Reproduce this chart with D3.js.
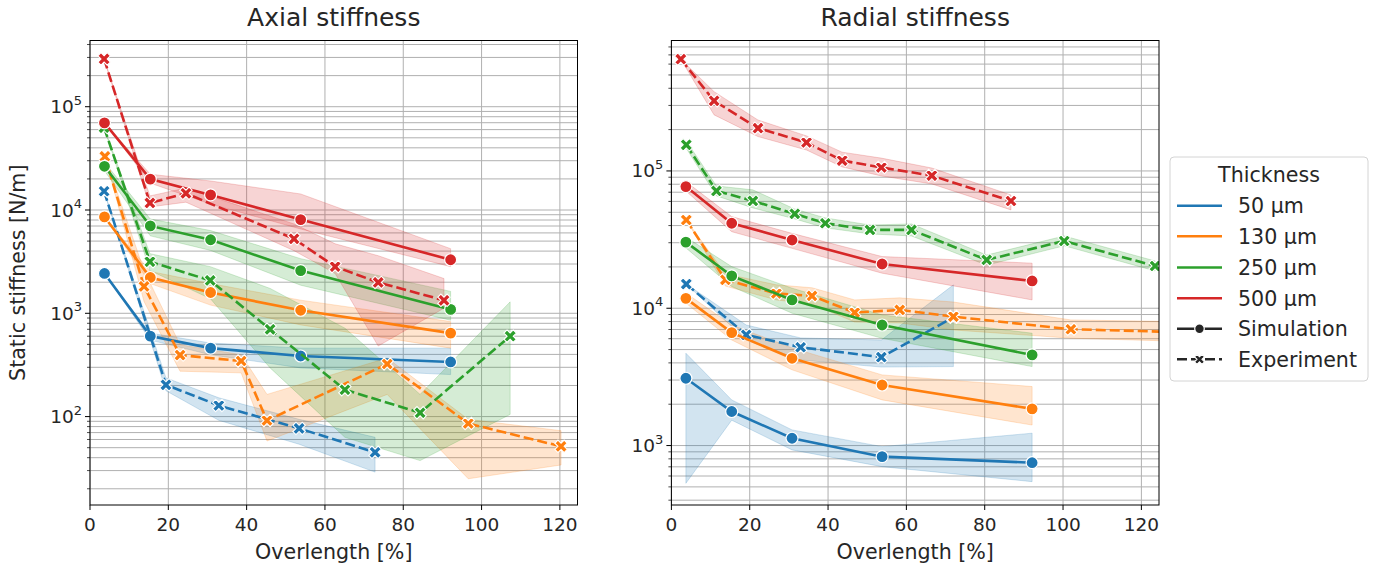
<!DOCTYPE html>
<html>
<head>
<meta charset="utf-8">
<script src="https://cdn.jsdelivr.net/npm/d3@7"></script>
<style>
  body { margin: 0; background: #fff; }
  svg { font-family: "DejaVu Sans", sans-serif; }
</style>
</head>
<body>
<svg id="chart" width="1377" height="572"></svg>
<script>
// ---------- data ----------
const thicknessLabels = ["50 µm", "130 µm", "250 µm", "500 µm"];
const methodLabels = ["Simulation", "Experiment"];
const xTicks = [0, 20, 40, 60, 80, 100, 120];

// Simulation overlength steps (%), shared by all thicknesses
const simX = [3.7, 15.4, 30.8, 53.8, 92.1];

// Axial stiffness – simulation (mean, lower, upper) [N/m]
const axialSim50 = [2430, 601, 460, 386, 338];
const axialSim50Lo = [2430, 550, 397, 296, 255];
const axialSim50Hi = [2430, 643, 515, 460, 460];
const axialSim130 = [8570, 2220, 1590, 1070, 643];
const axialSim130Lo = [8570, 1940, 1200, 772, 460];
const axialSim130Hi = [8570, 2540, 1940, 1340, 832];
const axialSim250 = [26500, 7010, 5150, 2590, 1090];
const axialSim250Lo = [24000, 5620, 4060, 1870, 857];
const axialSim250Hi = [29000, 8180, 6320, 3380, 1630];
const axialSim500 = [69700, 19900, 14000, 8070, 3300];
const axialSim500Lo = [69700, 18200, 11400, 6550, 2830];
const axialSim500Hi = [69700, 22200, 19100, 14300, 4220];

// Axial stiffness – experiment
const axialExp50X = [3.6, 19.4, 32.9, 53.4, 72.8];
const axialExp50 = [15200, 203, 128, 76.8, 45.1];
const axialExp50Lo = [15200, 178, 92, 54, 29];
const axialExp50Hi = [15200, 237, 152, 94, 63];
const axialExp130X = [3.8, 13.8, 23.0, 38.6, 45.2, 75.9, 96.6, 120.3];
const axialExp130 = [33000, 1820, 394, 345, 91.6, 323, 85.7, 51.5];
const axialExp130Lo = [33000, 1300, 275, 265, 58, 164, 25, 34];
const axialExp130Hi = [33000, 2600, 496, 397, 164, 369, 94, 73];
const axialExp250X = [3.6, 15.3, 30.7, 46.0, 65.1, 84.3, 107.3];
const axialExp250 = [62800, 3160, 2080, 700, 182, 109, 601];
const axialExp250Lo = [62800, 2590, 1390, 296, 63, 37.5, 105];
const axialExp250Hi = [62800, 3780, 2830, 1740, 718, 164, 1290];
const axialExp500X = [3.6, 15.3, 24.5, 52.1, 62.6, 73.6, 90.4];
const axialExp500 = [290000, 11700, 14500, 5260, 2830, 1990, 1335];
const axialExp500Lo = [290000, 10700, 11900, 4040, 2430, 482, 1120];
const axialExp500Hi = [290000, 13700, 16300, 7330, 4710, 3610, 2170];

// Radial stiffness – simulation
const radialSim50 = [3090, 1770, 1130, 830, 750];
const radialSim50Lo = [531, 1530, 930, 702, 546];
const radialSim50Hi = [4700, 2150, 1300, 982, 1230];
const radialSim130 = [11800, 6640, 4320, 2760, 1850];
const radialSim130Lo = [10900, 5870, 3560, 2150, 1410];
const radialSim130Hi = [12900, 7550, 5140, 3270, 2690];
const radialSim250 = [30300, 17200, 11500, 7550, 4570];
const radialSim250Lo = [27500, 14400, 9200, 6040, 3760];
const radialSim250Hi = [33000, 20100, 14000, 8940, 6580];
const radialSim500 = [76900, 41600, 31400, 21000, 15800];
const radialSim500Lo = [71400, 36100, 27300, 18000, 11500];
const radialSim500Hi = [83600, 46500, 35100, 23800, 21300];

// Radial stiffness – experiment
const radialExp50X = [3.8, 19.1, 33.0, 53.6, 72.0];
const radialExp50 = [15000, 6400, 5200, 4400, 8590];
const radialExp50Lo = [15000, 5870, 4200, 3730, 3760];
const radialExp50Hi = [15000, 7550, 6080, 5870, 14800];
const radialExp130X = [3.8, 13.8, 26.8, 35.9, 46.8, 58.3, 72.0, 102.0, 135];
const radialExp130 = [43900, 16100, 12800, 12300, 9300, 9720, 8690, 7030, 6640];
const radialExp130Lo = [43900, 14500, 11500, 10700, 7940, 7810, 6950, 6050, 5690];
const radialExp130Hi = [43900, 17800, 14800, 14100, 11500, 11900, 11100, 8220, 7940];
const radialExp250X = [3.8, 11.5, 20.8, 31.5, 39.3, 50.7, 61.3, 80.5, 100.3, 123.5];
const radialExp250 = [155000, 71500, 60500, 48700, 41600, 37200, 37200, 22500, 30900, 20300];
const radialExp250Lo = [146000, 65800, 53800, 44700, 38500, 34800, 33600, 20600, 28500, 18700];
const radialExp250Hi = [165000, 77800, 72800, 52800, 45500, 40400, 41100, 24400, 33600, 22100];
const radialExp500X = [2.4, 10.9, 22.1, 34.5, 43.6, 53.6, 66.5, 86.7];
const radialExp500 = [652000, 324000, 205000, 161000, 119000, 106000, 92500, 60400];
const radialExp500Lo = [652000, 256000, 178000, 142000, 107000, 92000, 80400, 52000];
const radialExp500Hi = [652000, 378000, 235000, 180000, 137000, 124000, 105000, 66800];

// ---------- styling ----------
const colors = ["#1f77b4", "#ff7f0e", "#2ca02c", "#d62728"];
const gridColor = "#b0b0b0";
const tickFont = 18.5;
const labelFont = 20.6;
const titleFont = 25;
const lineWidth = 2.6;
const dash = "10,4";

function series(x, y, lo, hi) {
  return x.map((v, i) => ({ x: v, y: y[i], lo: lo[i], hi: hi[i] }));
}

// drawing order: per thickness, simulation then experiment
const axialSeries = [
  [series(simX, axialSim50, axialSim50Lo, axialSim50Hi), series(axialExp50X, axialExp50, axialExp50Lo, axialExp50Hi)],
  [series(simX, axialSim130, axialSim130Lo, axialSim130Hi), series(axialExp130X, axialExp130, axialExp130Lo, axialExp130Hi)],
  [series(simX, axialSim250, axialSim250Lo, axialSim250Hi), series(axialExp250X, axialExp250, axialExp250Lo, axialExp250Hi)],
  [series(simX, axialSim500, axialSim500Lo, axialSim500Hi), series(axialExp500X, axialExp500, axialExp500Lo, axialExp500Hi)]
];
const radialSeries = [
  [series(simX, radialSim50, radialSim50Lo, radialSim50Hi), series(radialExp50X, radialExp50, radialExp50Lo, radialExp50Hi)],
  [series(simX, radialSim130, radialSim130Lo, radialSim130Hi), series(radialExp130X, radialExp130, radialExp130Lo, radialExp130Hi)],
  [series(simX, radialSim250, radialSim250Lo, radialSim250Hi), series(radialExp250X, radialExp250, radialExp250Lo, radialExp250Hi)],
  [series(simX, radialSim500, radialSim500Lo, radialSim500Hi), series(radialExp500X, radialExp500, radialExp500Lo, radialExp500Hi)]
];

const plotTop = 40.5, plotBottom = 505;
const panels = [
  { id: "axial", title: "Axial stiffness", left: 90, right: 577.5,
    yDomain: [Math.pow(10, 1.144), Math.pow(10, 5.641)], data: axialSeries },
  { id: "radial", title: "Radial stiffness", left: 671.4, right: 1159,
    yDomain: [Math.pow(10, 2.567), Math.pow(10, 5.95)], data: radialSeries }
];

const svg = d3.select("#chart");

// filled "X" marker: a plus turned by 45 degrees
function xMarkerPath(a, b) {
  const p = [[b, a], [b, b], [a, b], [a, -b], [b, -b], [b, -a], [-b, -a], [-b, -b], [-a, -b], [-a, b], [-b, b], [-b, a]];
  return "M" + p.map(q => q.join(",")).join("L") + "Z";
}
const xPath = xMarkerPath(6.6, 2.2);

function drawMarker(g, method, color, cx, cy, scale) {
  const s = scale || 1;
  if (method === 0) {
    g.append("circle").attr("cx", cx).attr("cy", cy).attr("r", 6 * s)
      .attr("fill", color).attr("stroke", "#fff").attr("stroke-width", 1.2);
  } else {
    g.append("path").attr("d", xPath)
      .attr("transform", `translate(${cx},${cy}) rotate(45) scale(${s})`)
      .attr("fill", color).attr("stroke", "#fff").attr("stroke-width", 1.1 / s);
  }
}

panels.forEach((p, pi) => {
  const x = d3.scaleLinear().domain([0, 124.5]).range([p.left, p.right]);
  const y = d3.scaleLog().domain(p.yDomain).range([plotBottom, plotTop]);
  const g = svg.append("g");

  const clipId = "clip-" + p.id;
  svg.append("clipPath").attr("id", clipId).append("rect")
    .attr("x", p.left).attr("y", plotTop).attr("width", p.right - p.left).attr("height", plotBottom - plotTop);

  // grid: vertical at major x ticks, horizontal at every log tick
  const yTicksAll = y.ticks().filter(v => y(v) >= plotTop - 0.5 && y(v) <= plotBottom + 0.5);
  const grid = g.append("g").attr("stroke", gridColor).attr("stroke-width", 1);
  xTicks.forEach(t => grid.append("line").attr("x1", x(t)).attr("x2", x(t)).attr("y1", plotTop).attr("y2", plotBottom));
  yTicksAll.forEach(t => grid.append("line").attr("x1", p.left).attr("x2", p.right).attr("y1", y(t)).attr("y2", y(t)));

  const plot = g.append("g").attr("clip-path", `url(#${clipId})`);

  // confidence bands underneath all lines
  const area = d3.area().x(d => x(d.x)).y0(d => y(d.lo)).y1(d => y(d.hi));
  p.data.forEach((pair, ti) => {
    pair.forEach(s => {
      plot.append("path").datum(s).attr("d", area)
        .attr("fill", colors[ti]).attr("fill-opacity", 0.2)
        .attr("stroke", colors[ti]).attr("stroke-opacity", 0.2).attr("stroke-width", 1);
    });
  });

  // lines with markers
  const line = d3.line().x(d => x(d.x)).y(d => y(d.y));
  p.data.forEach((pair, ti) => {
    pair.forEach((s, mi) => {
      plot.append("path").datum(s).attr("d", line).attr("fill", "none")
        .attr("stroke", colors[ti]).attr("stroke-width", lineWidth)
        .attr("stroke-dasharray", mi === 1 ? dash : null);
      s.forEach(d => drawMarker(plot, mi, colors[ti], x(d.x), y(d.y)));
    });
  });

  // frame
  g.append("rect").attr("x", p.left).attr("y", plotTop)
    .attr("width", p.right - p.left).attr("height", plotBottom - plotTop)
    .attr("fill", "none").attr("stroke", "#000").attr("stroke-width", 1);

  // x ticks
  const xt = g.append("g");
  xTicks.forEach(t => {
    xt.append("line").attr("x1", x(t)).attr("x2", x(t)).attr("y1", plotBottom).attr("y2", plotBottom + 5)
      .attr("stroke", "#000").attr("stroke-width", 1);
    xt.append("text").attr("x", x(t)).attr("y", plotBottom + 26).attr("text-anchor", "middle")
      .attr("font-size", tickFont).attr("fill", "#262626").text(t);
  });

  // y ticks (major decades labelled, minor unlabelled)
  const yt = g.append("g");
  yTicksAll.forEach(t => {
    const lgv = Math.log10(t);
    const major = Math.abs(lgv - Math.round(lgv)) < 1e-9;
    yt.append("line").attr("x1", p.left - (major ? 5 : 3)).attr("x2", p.left)
      .attr("y1", y(t)).attr("y2", y(t)).attr("stroke", "#000").attr("stroke-width", major ? 1 : 0.7);
    if (major) {
      const tx = yt.append("text").attr("x", p.left - 8).attr("y", y(t) + 6.5)
        .attr("text-anchor", "end").attr("font-size", tickFont).attr("fill", "#262626");
      tx.append("tspan").text("10");
      tx.append("tspan").attr("dy", -8.5).attr("font-size", 13).text(String(Math.round(lgv)));
    }
  });

  // titles and axis labels
  g.append("text").attr("x", (p.left + p.right) / 2).attr("y", 26).attr("text-anchor", "middle")
    .attr("font-size", titleFont).attr("fill", "#262626").text(p.title);
  g.append("text").attr("x", (p.left + p.right) / 2).attr("y", 559).attr("text-anchor", "middle")
    .attr("font-size", labelFont).attr("fill", "#262626").text("Overlength [%]");
  if (pi === 0) {
    g.append("text").attr("transform", `translate(25,${(plotTop + plotBottom) / 2}) rotate(-90)`)
      .attr("text-anchor", "middle").attr("font-size", labelFont).attr("fill", "#262626")
      .text("Static stiffness [N/m]");
  }
});

// ---------- legend ----------
const lg = svg.append("g");
lg.append("rect").attr("x", 1170).attr("y", 157).attr("width", 198).attr("height", 224)
  .attr("rx", 4).attr("fill", "#fff").attr("stroke", "#d4d4d4").attr("stroke-width", 1);
lg.append("text").attr("x", 1269).attr("y", 182).attr("text-anchor", "middle")
  .attr("font-size", labelFont).attr("fill", "#262626").text("Thickness");
const rowY = [205.7, 236.3, 267.5, 298.2, 328.8, 359.3];
thicknessLabels.forEach((lab, i) => {
  lg.append("line").attr("x1", 1177).attr("x2", 1222).attr("y1", rowY[i]).attr("y2", rowY[i])
    .attr("stroke", colors[i]).attr("stroke-width", lineWidth);
  lg.append("text").attr("x", 1238).attr("y", rowY[i] + 7.5).attr("font-size", labelFont)
    .attr("fill", "#262626").text(lab);
});
methodLabels.forEach((lab, j) => {
  const yy = rowY[4 + j];
  lg.append("line").attr("x1", 1177).attr("x2", 1222).attr("y1", yy).attr("y2", yy)
    .attr("stroke", "#262626").attr("stroke-width", lineWidth)
    .attr("stroke-dasharray", j === 1 ? dash : null);
  drawMarker(lg, j, "#262626", 1199.5, yy, 0.8);
  lg.append("text").attr("x", 1238).attr("y", yy + 7.5).attr("font-size", labelFont)
    .attr("fill", "#262626").text(lab);
});
</script>
</body>
</html>
